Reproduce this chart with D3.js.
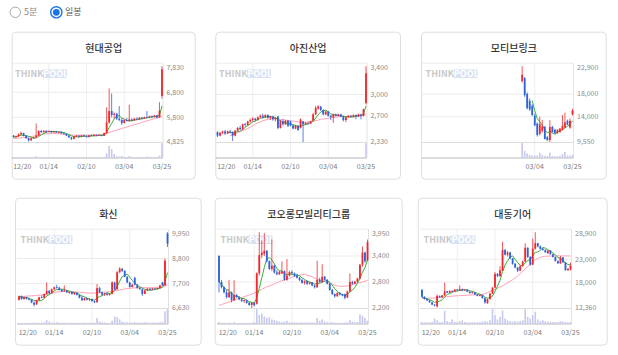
<!DOCTYPE html>
<html>
<head>
<meta charset="utf-8">
<script src="https://cdn.jsdelivr.net/npm/d3@7"></script>
<style>
  body { margin: 0; background: #fff; }
  svg text { font-family: "Noto Sans CJK KR", "Noto Sans", sans-serif; }
</style>
</head>
<body>
<svg id="chart" width="618" height="355"></svg>
<script>
// ---- data ----
var titles = ['현대공업', '아진산업', '모티브링크', '화신', '코오롱모빌리티그룹', '대동기어'];
var dateLabels = ['12/20', '01/14', '02/10', '03/04', '03/25'];
var dateIndex = [0, 14, 29, 44, 59];

var hdTicks = [7830, 6800, 5800, 4825];
var ajTicks = [3400, 3000, 2700, 2330];
var mtTicks = [22900, 18000, 14000, 9550];
var hsTicks = [9950, 8800, 7700, 6630];
var klTicks = [3950, 3400, 2800, 2200];
var ddTicks = [28900, 23000, 18000, 12360];

// candles: [open, high, low, close]
var hdCandles = [
  [5080,5100,5000,5020],[5020,5080,4990,5050],[5050,5160,5030,5130],[5130,5240,5100,5180],[5180,5190,5050,5070],
  [5070,5090,4950,4980],[4980,5000,4840,4890],[4890,4990,4870,4970],[4970,5030,4950,5010],[5010,5560,4990,5080],
  [5080,5290,5060,5260],[5260,5300,5190,5210],[5210,5290,5200,5270],[5270,5290,5200,5220],[5220,5280,5210,5260],
  [5260,5280,5190,5210],[5210,5270,5200,5250],[5250,5270,5190,5200],[5200,5240,5170,5230],[5230,5240,5150,5170],
  [5170,5190,5120,5140],[5140,5160,5060,5080],[5080,5100,4990,5010],[5010,5030,4900,4950],[4950,5060,4930,5040],
  [5040,5100,5020,5080],[5080,5090,5010,5030],[5030,5100,5020,5090],[5090,5110,5030,5050],[5050,5080,5000,5020],
  [5020,5100,5010,5090],[5090,5120,5050,5070],[5070,5130,5060,5110],[5110,5120,5050,5080],[5080,5120,5060,5100],
  [5100,5110,5050,5070],[5070,5200,5060,5180],[5180,6200,5150,5600],[5600,6950,5550,6050],[6050,6750,5800,5900],
  [5900,6000,5750,5950],[5950,5980,5700,5750],[5750,6250,5650,5700],[5700,5760,5500,5580],[5580,5720,5560,5700],
  [5700,5780,5640,5660],[5660,6300,5620,5720],[5720,5760,5640,5680],[5680,5780,5660,5750],[5750,5800,5690,5720],
  [5720,5810,5700,5790],[5790,5820,5730,5760],[5760,5830,5740,5810],[5810,6050,5780,5800],[5800,5870,5780,5850],
  [5850,5880,5790,5820],[5820,5900,5800,5880],[5880,5900,5760,5800],[5800,6400,5790,6070],[6650,7830,6550,7700]
];
var hdVolume = [4,3,5,4,3,4,5,3,4,10, 5,4,3,4,3,3,4,3,3,3, 3,4,3,4,3,3,3,3,3,3, 3,3,3,3,3,4,6,30,80,60,
  25,10,8,12,6,5,12,5,5,5, 4,5,4,8,5,4,5,5,15,100];
var hdMa20 = [4960,4970,4980,4990,5000,5010,5020,5040,5060,5080, 5100,5120,5140,5150,5160,5170,5170,5160,5150,5140,
  5130,5120,5110,5100,5100,5100,5100,5100,5100,5100, 5100,5100,5110,5110,5120,5120,5130,5160,5200,5240,
  5270,5300,5330,5360,5390,5420,5450,5480,5510,5540, 5570,5600,5630,5660,5690,5720,5750,5780,5810,5860];

var ajCandles = [
  [2470,2480,2400,2420],[2420,2470,2410,2460],[2460,2490,2440,2480],[2480,2500,2430,2450],[2450,2490,2440,2480],
  [2480,2500,2450,2470],[2470,2480,2345,2420],[2420,2500,2410,2490],[2490,2540,2480,2530],[2530,2560,2500,2510],
  [2510,2590,2500,2580],[2580,2600,2550,2570],[2570,2630,2560,2620],[2620,2660,2600,2640],[2640,2680,2620,2660],
  [2660,2670,2620,2640],[2640,2690,2630,2680],[2680,2720,2670,2700],[2700,2730,2660,2680],[2680,2720,2670,2710],
  [2710,2720,2660,2670],[2670,2700,2640,2690],[2690,2700,2630,2650],[2650,2680,2620,2670],[2690,2700,2510,2530],
  [2530,2640,2520,2620],[2620,2650,2560,2580],[2580,2640,2570,2630],[2630,2640,2540,2560],[2620,2630,2550,2560],
  [2560,2580,2510,2520],[2520,2570,2510,2560],[2560,2570,2490,2500],[2530,2660,2520,2650],[2620,2630,2330,2580],
  [2580,2610,2570,2600],[2600,2610,2580,2590],[2590,2630,2580,2620],[2630,2740,2620,2720],[2720,2840,2710,2810],
  [2800,2850,2790,2830],[2830,2840,2770,2780],[2780,2790,2710,2720],[2720,2770,2710,2760],[2760,2770,2690,2700],
  [2700,2710,2640,2680],[2680,2730,2600,2720],[2720,2730,2690,2700],[2700,2730,2690,2720],[2720,2730,2680,2690],
  [2690,2700,2620,2640],[2640,2690,2610,2680],[2680,2710,2670,2700],[2700,2710,2680,2690],[2690,2720,2680,2710],
  [2710,2720,2650,2690],[2690,2730,2680,2720],[2720,2730,2650,2700],[2700,2800,2690,2790],[2880,3400,2860,3300]
];
var ajVolume = [3,3,2,3,2,3,4,3,3,2, 3,2,3,3,2,2,3,2,2,2, 2,2,2,2,4,2,2,2,2,2, 2,2,2,3,5,2,2,2,3,4,
  3,2,2,2,2,2,2,2,2,2, 2,2,2,2,2,2,2,2,3,100];
var ajMa20 = [null,null,null,null,null,2420,2430,2445,2460,2475, 2490,2505,2520,2540,2560,2580,2600,2615,2630,2640,
  2650,2655,2660,2660,2655,2650,2645,2640,2635,2630, 2625,2620,2615,2610,2610,2610,2615,2620,2625,2630,
  2640,2650,2655,2660,2665,2670,2675,2680,2685,2690, 2690,2690,2690,2690,2695,2695,2700,2700,2705,2730];

// listed late: first candle is day index 39
var mtCandles = [
  [20300,22900,20000,21400],[20800,21000,17500,17800],[18000,18300,15300,15500],[16800,17200,15000,15300],[15900,16200,14100,14300],
  [14200,14500,12300,12500],[12800,13000,10500,10800],[11000,14000,10700,12700],[11500,13400,11200,12300],[12200,12400,10000,10100],
  [10400,10600,9700,9900],[9900,13400,9550,12200],[12200,12400,11200,11300],[11700,11900,11000,11100],[11100,11800,11000,11700],
  [11300,12000,11200,11900],[11700,14300,11600,12400],[12100,14700,12000,13000],[13300,13500,12500,12600],[12100,13700,11900,13300],
  [14400,15400,14200,15100]
];
var mtVolume = [100,47,30,20,15,15,15,35,20,12,12,35,12,10,10,12,25,40,15,15,20];

var hsCandles = [
  [6980,7170,6960,7150],[7150,7180,6990,7020],[7020,7130,7000,7100],[7100,7120,7000,7030],[7030,7080,6960,7000],
  [7000,7020,6840,6870],[6870,6900,6700,6780],[6780,7000,6770,6980],[6980,7120,6950,7100],[7100,7180,7060,7080],
  [7080,7260,7070,7240],[7240,7750,7200,7380],[7380,7420,7250,7280],[7280,7480,7260,7450],[7450,7560,7420,7540],
  [7540,7650,7480,7520],[7520,7560,7400,7420],[7420,7460,7330,7360],[7360,7620,7340,7400],[7400,7420,7290,7310],
  [7310,7360,7250,7330],[7330,7350,7220,7240],[7240,7320,7200,7300],[7300,7310,7180,7200],[7200,7230,7050,7080],
  [7080,7150,6940,6970],[6970,7080,6950,7060],[7060,7080,6960,6990],[6990,7050,6930,7020],[7020,7040,6900,6930],
  [6930,6960,6840,6880],[6880,7680,6870,7500],[7500,7560,7280,7320],[7320,7360,7180,7220],[7220,7300,7150,7260],
  [7260,7290,7170,7200],[7200,7280,7170,7250],[7250,7800,7230,7750],[7750,7780,7400,7450],[7450,8250,7430,8200],
  [8200,8420,8150,8350],[8350,8380,8200,8260],[8260,8280,7980,8000],[8000,8020,7720,7750],[7750,7780,7520,7550],
  [7550,7700,7530,7650],[7950,8000,7620,7650],[7650,7680,7480,7500],[7500,7540,7430,7450],[7450,7470,7150,7250],
  [7250,7420,7230,7400],[7400,7500,7380,7480],[7480,7500,7410,7430],[7430,7510,7420,7490],[7490,7500,7430,7450],
  [7450,7520,7440,7500],[7500,7640,7480,7620],[7750,7780,7600,7620],[7620,8800,7600,8700],[9900,9950,9300,9450]
];
var hsVolume = [6,5,5,5,6,6,8,6,6,8, 10,25,15,8,8,10,8,6,8,6, 6,6,6,6,6,6,8,6,6,6, 8,40,15,10,8,6,6,20,50,45,
  30,15,10,10,8,8,10,8,8,8, 10,8,8,8,8,8,10,12,85,100];
var hsMa20 = [7120,7130,7140,7150,7160,7160,7170,7180,7190,7200, 7220,7240,7260,7280,7300,7320,7340,7350,7360,7360,
  7360,7350,7340,7330,7320,7310,7300,7290,7280,7280, 7280,7290,7300,7310,7320,7330,7340,7360,7380,7400,
  7420,7440,7460,7480,7490,7500,7510,7520,7520,7520, 7520,7520,7520,7520,7530,7540,7550,7570,7600,7650];

var klCandles = [
  [3400,3420,2560,2800],[2800,2850,2650,2680],[2680,2700,2540,2560],[2560,2620,2420,2450],[2450,2850,2430,2560],
  [2560,2580,2330,2380],[2380,2840,2360,2500],[2500,2520,2430,2450],[2450,2470,2380,2400],[2400,2430,2340,2360],
  [2360,2400,2320,2380],[2380,2390,2300,2320],[2320,2340,2250,2270],[2270,2340,2200,2320],[2320,2330,2240,2260],
  [2300,3020,2280,3000],[3000,3950,2950,3420],[3420,3760,3350,3480],[3450,3930,3400,3520],[3520,3540,3250,3280],
  [3280,3300,3080,3100],[3100,3780,3050,3180],[3180,3200,2990,3020],[3020,3080,2950,2980],[2980,3060,2960,3040],
  [3000,3280,2980,3050],[3050,3070,2830,2850],[2850,3330,2830,2950],[2950,3060,2930,3030],[3030,3070,2990,3000],
  [3000,3020,2920,2950],[2950,2990,2880,2900],[2900,2920,2820,2850],[2850,2870,2760,2780],[2780,2840,2740,2820],
  [2820,2840,2730,2760],[2760,2800,2740,2790],[2790,2800,2700,2720],[2720,2740,2650,2680],[2680,3290,2660,2850],
  [2850,2900,2780,2800],[2800,3210,2790,2920],[2920,2940,2830,2850],[2850,2870,2740,2760],[2760,2780,2600,2620],
  [2620,2640,2500,2520],[2520,2540,2440,2470],[2470,2560,2460,2550],[2550,2570,2490,2510],[2510,2530,2470,2490],
  [2520,2530,2400,2440],[2440,2600,2430,2580],[2580,3000,2570,2800],[2800,2830,2740,2760],[2760,2830,2750,2810],
  [2810,2900,2790,2880],[2880,3220,2860,3200],[3200,3620,3150,3480],[3480,3500,3240,3280],[3300,3780,3280,3720]
];
var klVolume = [12,6,6,5,8,6,10,5,5,6, 5,5,6,8,10,100,60,70,50,40, 45,30,25,20,15,12,15,20,10,10,
  8,8,8,10,8,8,10,8,8,40, 20,30,15,10,8,10,8,6,6,6, 8,10,25,15,10,12,65,55,40,20];
var klMa20 = [2260,2280,2300,2320,2340,2360,2380,2400,2420,2440, 2460,2480,2500,2520,2545,2570,2600,2630,2660,2690,
  2710,2730,2760,2785,2810,2830,2850,2870,2890,2910, 2930,2945,2960,2970,2980,2960,2940,2920,2895,2870,
  2850,2830,2810,2790,2770,2750,2730,2710,2700,2700, 2705,2710,2720,2740,2755,2770,2785,2800,2820,2840];

var ddCandles = [
  [16300,16500,14600,14800],[14800,14900,14200,14300],[14300,14500,13900,14000],[14000,14100,13500,13600],[13600,13700,13000,13100],
  [13100,13200,12700,12900],[12700,15300,12500,15000],[15000,15100,14600,14700],[14700,15200,14600,15100],[15100,17900,15000,16000],
  [16000,16100,15600,15700],[15700,16200,15600,16100],[16100,16200,15800,15900],[15900,16500,15800,16400],[16400,16500,16100,16200],
  [16200,17300,16100,16500],[16500,16600,16100,16200],[16200,16500,16100,16400],[16400,16450,15800,15900],[15900,16000,15500,15600],
  [15600,15900,15500,15800],[15800,15850,15200,15300],[15300,15400,14900,15000],[15000,15300,14900,15200],[15200,15250,14400,14500],
  [14500,14600,13300,13600],[13400,14400,13300,14300],[14300,15600,14200,15500],[15500,16900,15400,16800],[16800,20200,16700,19800],
  [19800,20000,19100,19300],[19300,21500,19200,20600],[20500,26800,20400,25000],[25000,25300,23800,24000],[24000,24800,23600,24500],
  [24500,24600,23000,23200],[23200,23300,21800,22000],[22000,22200,21000,21200],[21200,21300,20200,20500],[20500,21700,20400,21500],
  [21500,22700,21400,22500],[22500,26500,22400,25500],[25500,25600,23300,23500],[23500,23700,21600,21800],[21800,27500,21700,25300],
  [25300,28900,25100,26500],[26500,26600,25600,25800],[25800,26000,25100,25300],[25300,25500,24900,25000],[25000,25200,24400,24500],
  [24300,25000,24200,24900],[24900,25000,24000,24100],[24100,24200,23400,23500],[23500,23600,22500,22600],[22600,22700,22000,22100],
  [22100,23700,22000,23400],[23400,23500,22200,22300],[22300,22400,20500,20600],[20600,21100,20500,20900],[20800,22300,20500,21600]
];
var ddVolume = [10,8,8,8,10,30,20,10,10,75, 15,10,25,10,10,15,20,10,8,8, 8,8,8,10,12,15,12,20,85,50,
  25,40,78,30,20,15,12,15,12,15, 20,85,40,30,50,70,25,15,20,15, 12,12,10,10,10,15,12,10,8,10];
var ddMa20 = [14420,14450,14480,14510,14540,14570,14620,14670,14720,14770, 14820,14880,14940,15000,15030,15060,15090,15120,15150,15180,
  15200,15220,15250,15280,15300,15500,15700,15950,16200,16450, 16700,16950,17200,17530,17860,18190,18520,18850,19360,19870,
  20380,20890,21400,21900,22400,22900,23150,23400,23600,23650, 23680,23700,23720,23730,23740,23740,23740,23730,23720,23700];

// ---- layout ----
var charts = [
  { title: titles[0], ticks: hdTicks, candles: hdCandles, vol: hdVolume, ma20: hdMa20, start: 0, maMin: 1 },
  { title: titles[1], ticks: ajTicks, candles: ajCandles, vol: ajVolume, ma20: ajMa20, start: 0, maMin: 5 },
  { title: titles[2], ticks: mtTicks, candles: mtCandles, vol: mtVolume, ma20: null, start: 39, maMin: 5 },
  { title: titles[3], ticks: hsTicks, candles: hsCandles, vol: hsVolume, ma20: hsMa20, start: 0, maMin: 1 },
  { title: titles[4], ticks: klTicks, candles: klCandles, vol: klVolume, ma20: klMa20, start: 0, maMin: 1 },
  { title: titles[5], ticks: ddTicks, candles: ddCandles, vol: ddVolume, ma20: ddMa20, start: 0, maMin: 1 }
];
var panels = [
  { x: 11.7, y: 31.7, w: 184, x0: 13.5 },
  { x: 215.3, y: 31.7, w: 185.7, x0: 217.5 },
  { x: 421, y: 31.7, w: 185.7, x0: 424 },
  { x: 15, y: 197.7, w: 186.7, x0: 19 },
  { x: 214.7, y: 197.7, w: 188, x0: 219 },
  { x: 417.7, y: 197.7, w: 190, x0: 422 }
];
var RED = '#f0282d', BLUE = '#2d63d8';

var svg = d3.select('#chart');

// radio buttons
svg.append('circle').attr('cx', 15.3).attr('cy', 12.3).attr('r', 5.2)
  .attr('fill', '#fff').attr('stroke', '#a8a8a8').attr('stroke-width', 1);
svg.append('text').attr('x', 24).attr('y', 12.3).attr('dy', '0.35em')
  .attr('font-size', 9).attr('fill', '#888').text('5분');
svg.append('circle').attr('cx', 56.3).attr('cy', 12.3).attr('r', 5.6)
  .attr('fill', '#fff').attr('stroke', '#1a73e8').attr('stroke-width', 1.4);
svg.append('circle').attr('cx', 56.3).attr('cy', 12.3).attr('r', 3.4).attr('fill', '#1a73e8');
svg.append('text').attr('x', 65).attr('y', 12.3).attr('dy', '0.35em')
  .attr('font-size', 9).attr('fill', '#555').text('일봉');

function movingAvg(closes, n, minCount) {
  return closes.map(function(c, i) {
    var s = closes.slice(Math.max(0, i - n + 1), i + 1);
    return s.length >= minCount ? d3.mean(s) : null;
  });
}

charts.forEach(function(c, k) {
  var p = panels[k];
  var g = svg.append('g').attr('transform', 'translate(' + p.x + ',' + p.y + ')');

  g.append('rect').attr('x', 0.5).attr('y', 0.5).attr('width', p.w - 1).attr('height', 147)
    .attr('rx', 4).attr('fill', '#fff').attr('stroke', '#dedede');

  g.append('text').attr('x', p.w / 2).attr('y', 16.5).attr('dy', '0.35em')
    .attr('text-anchor', 'middle').attr('font-size', 10).attr('font-weight', 500)
    .attr('fill', '#333').text(c.title);

  var x0 = p.x0 - p.x;
  var x = d3.scaleLinear().domain([0, 59]).range([x0, x0 + 148.5]);
  var y = d3.scaleLinear().domain([c.ticks[3], c.ticks[0]]).range([110.3, 34.5]);
  var vmax = d3.max(c.vol);
  var yv = d3.scaleLinear().domain([0, vmax]).range([126, 111.5]);
  var axisX = x(59) + 1;
  var gl = x0 - 2;

  // grid
  g.append('line').attr('x1', gl).attr('x2', axisX).attr('y1', 31.5).attr('y2', 31.5).attr('stroke', '#ececec');
  [c.ticks[1], c.ticks[2]].forEach(function(t) {
    g.append('line').attr('x1', gl).attr('x2', axisX).attr('y1', y(t)).attr('y2', y(t)).attr('stroke', '#ececec');
  });
  dateIndex.forEach(function(d, j) {
    if (j === 0 || j === 4 || d < c.start) return;
    g.append('line').attr('x1', x(d)).attr('x2', x(d)).attr('y1', 31.5).attr('y2', 126).attr('stroke', '#efefef');
  });
  g.append('line').attr('x1', gl).attr('x2', axisX).attr('y1', 110.8).attr('y2', 110.8).attr('stroke', '#dcdcdc');
  g.append('line').attr('x1', axisX).attr('x2', axisX).attr('y1', 31.5).attr('y2', 126).attr('stroke', '#e2e2e2');
  g.append('line').attr('x1', gl).attr('x2', axisX).attr('y1', 126.3).attr('y2', 126.3).attr('stroke', '#b8b8b8');

  // y labels
  c.ticks.forEach(function(t, j) {
    g.append('text').attr('x', axisX + 3.5).attr('y', j === 0 ? 35.5 : y(t)).attr('dy', '0.35em')
      .attr('font-family', 'Roboto').attr('font-size', 7).attr('fill', '#8a8a8a')
      .text(d3.format(',')(t));
  });

  // watermark
  var wm = g.append('g').attr('transform', 'translate(' + (x0 + 1.5) + ',45)');
  wm.append('rect').attr('x', 28).attr('y', -7.3).attr('width', 24).attr('height', 8.6).attr('fill', '#d9e2f2');
  wm.append('text').attr('font-family', 'Liberation Sans').attr('font-weight', 'bold').attr('font-size', 9)
    .attr('fill', '#c9c9c9').text('THINK')
    .append('tspan').attr('fill', '#fff').text('POOL');

  // date labels
  dateIndex.forEach(function(d, j) {
    if (d < c.start) return;
    g.append('text').attr('x', j === 0 ? x0 - 0.3 : x(d)).attr('y', 134.5).attr('dy', '0.35em')
      .attr('text-anchor', j === 0 ? 'start' : 'middle')
      .attr('font-family', 'Roboto').attr('font-size', 7).attr('fill', '#7a7a7a')
      .text(dateLabels[j]);
  });

  // volume
  g.selectAll('.vol').data(c.vol).enter().append('rect')
    .attr('x', function(v, i) { return x(i + c.start) - 0.8; })
    .attr('y', function(v) { return yv(v); })
    .attr('width', 1.6)
    .attr('height', function(v) { return 126 - yv(v); })
    .attr('fill', '#c6c8ee');

  // moving averages
  var closes = c.candles.map(function(d) { return d[3]; });
  var line = d3.line().defined(function(v) { return v != null; })
    .x(function(v, i) { return x(i + c.start); }).y(function(v) { return y(v); });
  if (c.ma20) {
    g.append('path').datum(c.ma20).attr('d', line).attr('fill', 'none')
      .attr('stroke', '#ff9fb4').attr('stroke-width', 1);
  }
  g.append('path').datum(movingAvg(closes, 5, c.maMin)).attr('d', line).attr('fill', 'none')
    .attr('stroke', '#3cae3c').attr('stroke-width', 1);

  // candles
  var cg = g.selectAll('.candle').data(c.candles).enter().append('g');
  cg.append('line')
    .attr('x1', function(d, i) { return x(i + c.start); })
    .attr('x2', function(d, i) { return x(i + c.start); })
    .attr('y1', function(d) { return y(d[1]); })
    .attr('y2', function(d) { return y(d[2]); })
    .attr('stroke', function(d) { return d[3] >= d[0] ? RED : BLUE; })
    .attr('stroke-width', 0.8);
  cg.append('rect')
    .attr('x', function(d, i) { return x(i + c.start) - 0.9; })
    .attr('y', function(d) { return y(Math.max(d[0], d[3])); })
    .attr('width', 1.8)
    .attr('height', function(d) { return Math.max(0.8, Math.abs(y(d[0]) - y(d[3]))); })
    .attr('fill', function(d) { return d[3] >= d[0] ? RED : BLUE; });
});
</script>
</body>
</html>
